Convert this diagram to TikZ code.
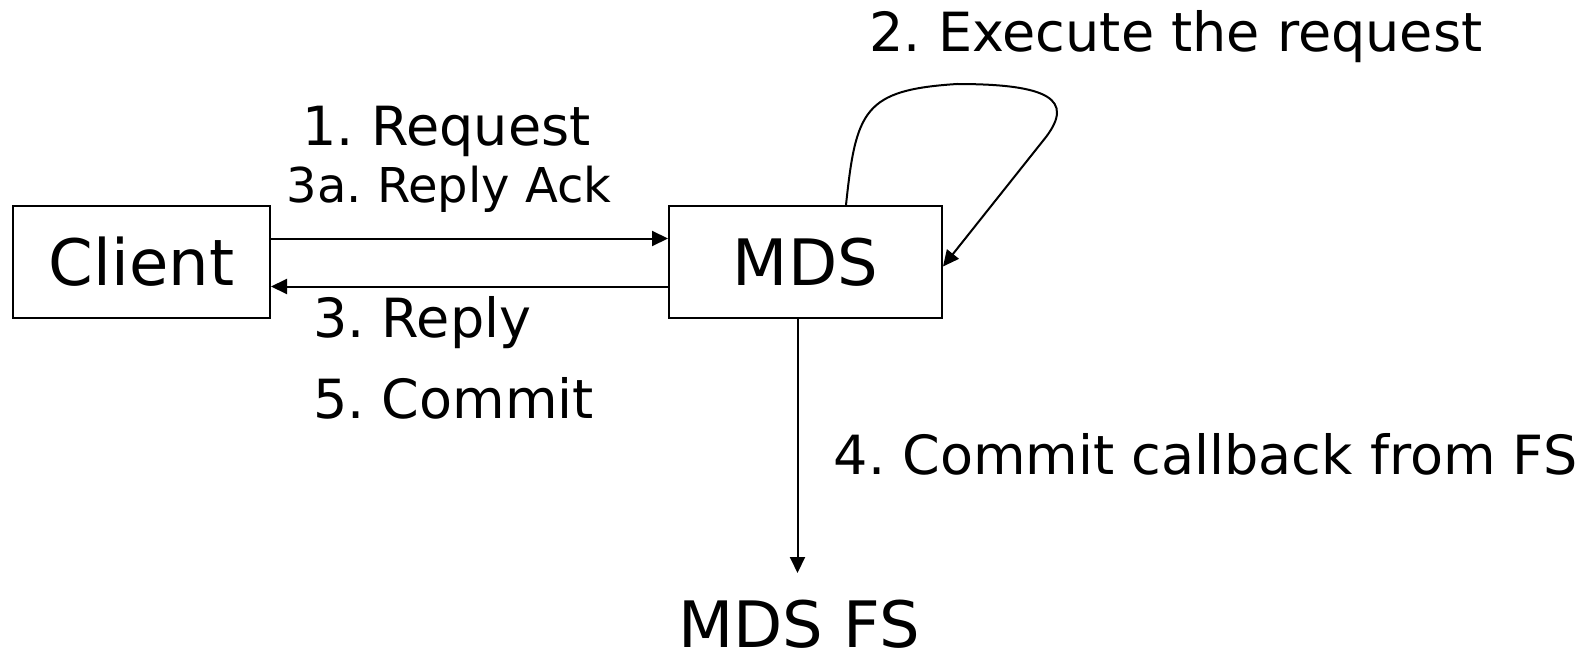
\documentclass[tikz,border=0pt]{standalone}
\usepackage{fontspec}
\setmainfont{DejaVu Sans}
\usetikzlibrary{arrows.meta,calc}
\frenchspacing

\tikzset{
  box/.style={draw, line width=2pt, rectangle, inner sep=0pt,
              font=\fontsize{64}{70}\selectfont},
  lbl/.style={inner sep=0pt, font=\fontsize{54}{60}\selectfont},
  lblsmall/.style={inner sep=0pt, font=\fontsize{48}{54}\selectfont},
  arr/.style={line width=2pt, -{Triangle[length=16pt,width=15pt]}},
}

\begin{document}
\begin{tikzpicture}[x=1pt, y=-1pt]
  \useasboundingbox (0,0) rectangle (1589,655);

  % the two boxes
  \node[box, minimum width=257pt, minimum height=112pt] (client) at (141.5,262) {Client};
  \node[box, minimum width=273pt, minimum height=112pt] (mds) at (805.5,262) {MDS};

  % file system below the MDS
  \node[lbl, font=\fontsize{64}{70}\selectfont, anchor=base] (mdsfs) at (799,647) {MDS FS};
  \coordinate (fstip) at (797.5,573);

  % request / reply between client and MDS
  \draw[arr] ([yshift=23.5pt]client.east) -- ([yshift=23.5pt]mds.west);
  \draw[arr] ([yshift=-24.5pt]mds.west) -- ([yshift=-24.5pt]client.east);

  % MDS executes the request on itself
  \draw[arr] ([xshift=40.5pt]mds.north)
     .. controls (856,110) and (864,90) .. (957,84)
     .. controls (1050,84) and (1074,100) .. (1046,137)
     -- ([yshift=-4.5pt]mds.east);

  % commit callback from the file system
  \draw[arr] ([xshift=-8pt]mds.south) -- (fstip);

  % labels
  \node[lbl, anchor=base] (lexec) at (1176,51.5) {2. Execute the request};
  \node[lbl, anchor=base] (lreq) at (446.5,145.5) {1. Request};
  \node[lblsmall, anchor=base] (lack) at (449,202.5) {3a. Reply Ack};
  \node[lbl, anchor=base west] (lreply) at (313,337.5) {3. Reply};
  \node[lbl, anchor=base west] (lcommit) at (313,418.5) {5. Commit};
  \node[lbl, anchor=base] (lcb) at (1205.5,474) {4. Commit callback from FS};
\end{tikzpicture}
\end{document}
